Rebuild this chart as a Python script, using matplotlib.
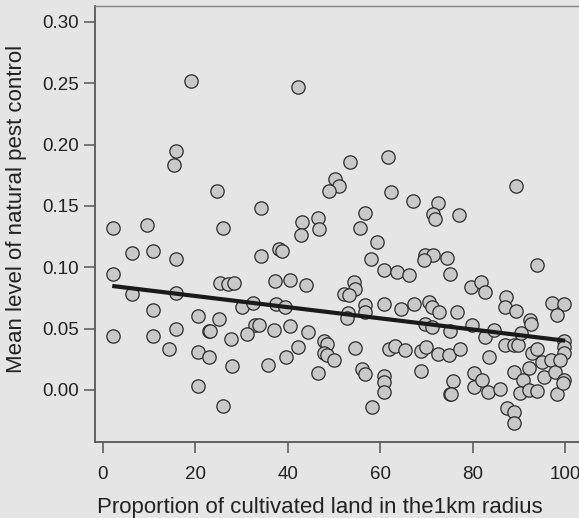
import numpy as np
import matplotlib
matplotlib.use("Agg")
import matplotlib.pyplot as plt

plt.rcParams['font.family'] = ['Liberation Sans', 'DejaVu Sans']

# ==== Data ====
cultivated = [
    19.1, 42.3, 15.9, 15.4, 24.7, 53.5, 50.3, 51.0, 48.8, 61.6,
    62.3, 89.4, 67.1, 72.5, 71.5, 71.9, 77.0, 34.1, 2.1, 9.5,
    25.9, 43.1, 46.5, 42.9, 46.8, 56.8, 55.7, 59.3, 6.3, 10.9,
    15.9, 34.1, 38.1, 38.8, 58.0, 69.6, 71.3, 69.5, 74.4, 93.9,
    2.1, 60.9, 63.6, 66.3, 75.0, 25.3, 27.1, 28.3, 37.2, 40.5,
    44.0, 54.3, 54.6, 52.2, 53.3, 79.7, 81.7, 82.7, 6.3, 15.9,
    10.9, 30.0, 32.5, 37.4, 39.3, 56.6, 60.7, 64.4, 67.2, 70.5,
    71.2, 72.7, 76.5, 87.2, 86.9, 89.4, 97.2, 99.8, 98.2, 20.5,
    25.1, 32.9, 33.8, 37.0, 40.5, 44.3, 31.2, 27.8, 22.9, 23.1,
    15.9, 10.9, 2.1, 14.2, 20.5, 22.9, 28.0, 20.5, 25.9, 35.6,
    39.6, 42.1, 46.5, 47.9, 48.4, 47.9, 48.4, 49.9, 53.0, 52.8,
    56.8, 54.6, 56.0, 56.6, 58.3, 60.7, 60.7, 60.7, 61.9, 63.1,
    65.3, 68.8, 69.9, 68.8, 69.6, 71.1, 72.5, 74.9, 75.1, 77.2,
    75.8, 75.1, 75.3, 79.8, 80.3, 80.3, 82.1, 83.4, 83.5, 82.7,
    84.5, 86.0, 86.9, 87.5, 89.0, 88.9, 88.9, 88.9, 89.9, 90.5,
    92.1, 90.9, 90.3, 92.1, 93.9, 92.3, 92.7, 92.8, 93.9, 95.0,
    95.4, 97.0, 97.7, 98.3, 99.8, 99.8, 99.8, 99.7, 99.6, 98.8,
]
pest_control = [
    0.252, 0.247, 0.1946, 0.1837, 0.162, 0.1859, 0.172, 0.166, 0.1625, 0.190,
    0.161, 0.1666, 0.154, 0.1527, 0.1432, 0.1394, 0.1424, 0.1484, 0.1323, 0.1342,
    0.1318, 0.1370, 0.1400, 0.1261, 0.1310, 0.1445, 0.1318, 0.1209, 0.1114, 0.1136,
    0.1068, 0.1092, 0.1147, 0.1136, 0.1070, 0.1103, 0.1098, 0.1060, 0.1079, 0.1019,
    0.0948, 0.0976, 0.0960, 0.0937, 0.0948, 0.0872, 0.0862, 0.0869, 0.0889, 0.0895,
    0.0853, 0.0878, 0.0823, 0.0780, 0.0775, 0.0842, 0.0883, 0.0799, 0.0783, 0.0788,
    0.0655, 0.0677, 0.0709, 0.0703, 0.0677, 0.0690, 0.0703, 0.0659, 0.0703, 0.0720,
    0.0679, 0.0639, 0.0636, 0.0756, 0.0674, 0.0642, 0.0712, 0.0703, 0.0614, 0.0600,
    0.0575, 0.0530, 0.0530, 0.0489, 0.0524, 0.0470, 0.0457, 0.0413, 0.0484, 0.0478,
    0.0495, 0.0440, 0.0443, 0.0334, 0.0307, 0.0272, 0.0193, 0.0035, -0.0130, 0.0206,
    0.0267, 0.0353, 0.0136, 0.0402, 0.0373, 0.0304, 0.0285, 0.0244, 0.0625, 0.0584,
    0.0633, 0.0340, 0.0171, 0.0130, -0.0136, 0.0114, 0.0068, -0.0019, 0.0332, 0.0359,
    0.0326, 0.0318, 0.0353, 0.0157, 0.0538, 0.0516, 0.0291, 0.0285, 0.0484, 0.0334,
    0.0073, -0.0035, -0.0030, 0.0530, 0.0141, 0.0027, 0.0082, -0.0019, 0.0267, 0.0435,
    0.0489, 0.0008, 0.0367, -0.0144, -0.0177, -0.0272, 0.0144, 0.0367, 0.0367, 0.0462,
    0.0176, 0.0082, -0.0022, 0.0000, -0.0011, 0.0570, 0.0535, 0.0304, 0.0332, 0.0230,
    0.0109, 0.0244, 0.0149, -0.0030, 0.0402, 0.0353, 0.0299, 0.0082, 0.0060, 0.0245,
]

# fitted trend line (end points)
fit_x = [2.0, 100.0]
fit_y = [0.0848, 0.0402]

x_ticks = [0, 20, 40, 60, 80, 100]
y_ticks = [0.00, 0.05, 0.10, 0.15, 0.20, 0.25, 0.30]

bg = '#e5e5e5'

fig = plt.figure(figsize=(5.79, 5.18), dpi=100, facecolor=bg)
ax = fig.add_axes([0.164, 0.1467, 0.84, 0.8417], facecolor=bg)

ax.scatter(cultivated, pest_control, s=92, facecolor='#c9c9c9',
           edgecolor='#2b2b2b', linewidth=0.9, zorder=2)
ax.plot(fit_x, fit_y, color='#1a1a1a', linewidth=3.0,
        solid_capstyle='butt', zorder=3)

ax.set_xlim(-1.74, 103.5)
ax.set_ylim(-0.0424, 0.313)
ax.set_xticks(x_ticks)
ax.set_yticks(y_ticks)
ax.set_xticklabels([str(v) for v in x_ticks])
ax.set_yticklabels([f"{v:.2f}" for v in y_ticks])

ax.tick_params(axis='both', direction='out', length=8, width=1.1,
               color='#555555', labelcolor='#222222', labelsize=13.5)
ax.tick_params(axis='x', pad=9.5)
ax.tick_params(axis='y', pad=3.5)

for side in ['left', 'bottom']:
    ax.spines[side].set_color('#555555')
    ax.spines[side].set_linewidth(1.3)
for side in ['top', 'right']:
    ax.spines[side].set_color('#808080')
    ax.spines[side].set_linewidth(1.0)

ax.set_xlabel("Proportion of cultivated land in the1km radius",
              fontsize=16, color='#222222')
ax.set_ylabel("Mean level of natural pest control",
              fontsize=16, color='#222222')
ax.xaxis.set_label_coords(0.463, -0.126)
ax.yaxis.set_label_coords(-0.14, 0.534)

fig.savefig("out.png", dpi=100, facecolor=bg)
